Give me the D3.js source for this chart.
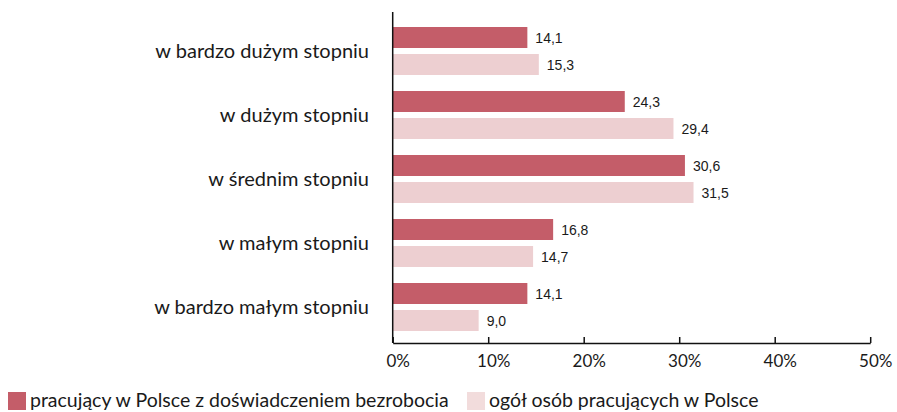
<!DOCTYPE html>
<html>
<head>
<meta charset="utf-8">
<script src="https://cdn.jsdelivr.net/npm/d3@7"></script>
<style>
  html, body { margin: 0; padding: 0; background: #fff; }
  svg { display: block; }
</style>
</head>
<body>
<svg id="chart" width="897" height="412"></svg>
<script>
// Stopień – odpowiedzi w procentach
const categories = [
  "w bardzo dużym stopniu",
  "w dużym stopniu",
  "w średnim stopniu",
  "w małym stopniu",
  "w bardzo małym stopniu"
];
const seriesNames = [
  "pracujący w Polsce z doświadczeniem bezrobocia",
  "ogół osób pracujących w Polsce"
];
const unemployedValues = [14.1, 24.3, 30.6, 16.8, 14.1];
const allWorkersValues = [15.3, 29.4, 31.5, 14.7, 9.0];
const tickValues = [0, 10, 20, 30, 40, 50];
const colors = ["#c45d69", "#edcfd1"];
const legendColors = ["#c45d69", "#f2dcdc"];

const seriesValues = [unemployedValues, allWorkersValues];
const rows = categories.map((c, i) => ({
  category: c,
  values: seriesNames.map((s, j) => ({ series: s, value: seriesValues[j][i], idx: j }))
}));

const svg = d3.select("#chart");
const labelFont = "Lato, 'Open Sans', sans-serif";

const x = d3.scaleLinear().domain([0, 50]).range([392.7, 870.2]);
const y = d3.scaleBand().domain(categories).range([19, 339])
  .paddingInner(0.25).paddingOuter(0.125);
const ySub = d3.scaleBand().domain(seriesNames).range([0, y.bandwidth()])
  .paddingInner(6 / 27);

const axisY = 343;

// Bars
const groups = svg.append("g").selectAll("g").data(rows).join("g")
  .attr("transform", d => `translate(0,${y(d.category)})`);

groups.selectAll("rect").data(d => d.values).join("rect")
  .attr("x", x(0))
  .attr("y", d => ySub(d.series))
  .attr("width", d => x(d.value) - x(0))
  .attr("height", ySub.bandwidth())
  .attr("fill", d => colors[d.idx]);

// Value labels
const fmt = v => v.toFixed(1).replace(".", ",");
groups.selectAll("text").data(d => d.values).join("text")
  .attr("x", d => x(d.value) + 8)
  .attr("y", d => ySub(d.series) + ySub.bandwidth() / 2 + 5)
  .attr("font-family", "'Liberation Sans', Arial, sans-serif")
  .attr("font-size", 14)
  .attr("fill", "#1a1a1a")
  .text(d => fmt(d.value));

// Category labels
svg.append("g").selectAll("text").data(categories).join("text")
  .attr("x", 369)
  .attr("y", d => y(d) + y.bandwidth() / 2 + 7)
  .attr("text-anchor", "end")
  .attr("font-family", labelFont)
  .attr("font-size", 20)
  .attr("fill", "#1a1a1a")
  .text(d => d);

// Vertical axis line
svg.append("line")
  .attr("x1", x(0)).attr("x2", x(0))
  .attr("y1", 12).attr("y2", axisY)
  .attr("stroke", "#111").attr("stroke-width", 1.5);

// Bottom axis
const xAxis = d3.axisBottom(x)
  .tickValues(tickValues)
  .tickSizeInner(-6)
  .tickSizeOuter(0)
  .tickPadding(12)
  .tickFormat(d => d + "%");

const gx = svg.append("g").attr("transform", `translate(0,${axisY})`).call(xAxis);
gx.select(".domain").attr("stroke", "#111").attr("stroke-width", 1.5);
gx.selectAll(".tick line").attr("stroke", "#111").attr("stroke-width", 1.5);
gx.selectAll(".tick text")
  .attr("font-family", labelFont)
  .attr("font-size", 17)
  .attr("fill", "#1a1a1a")
  .attr("dx", 5);

// Legend
const legendX = [8, 467];
const legend = svg.append("g").selectAll("g").data(seriesNames).join("g")
  .attr("transform", (d, i) => `translate(${legendX[i]},392)`);
legend.append("rect")
  .attr("width", 18).attr("height", 18)
  .attr("fill", (d, i) => legendColors[i]);
legend.append("text")
  .attr("x", 22).attr("y", 15)
  .attr("font-family", labelFont)
  .attr("font-size", 19.5)
  .attr("fill", "#1a1a1a")
  .text(d => d);
</script>
</body>
</html>
